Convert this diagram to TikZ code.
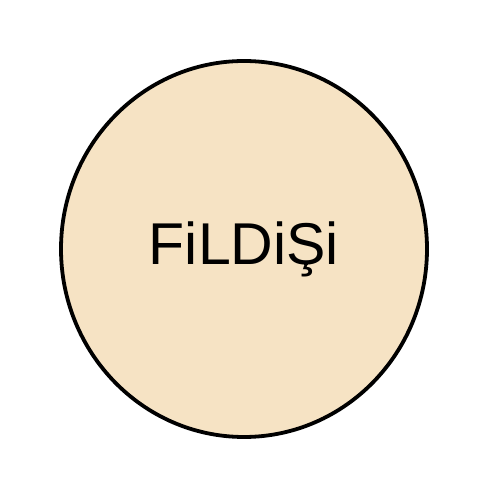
\documentclass[tikz,border=0pt]{standalone}
\usepackage{fontspec}
\setmainfont{Liberation Sans}
\usetikzlibrary{shapes.geometric}
\definecolor{ivory}{HTML}{F6E3C4}
\begin{document}
\begin{tikzpicture}[x=1pt,y=1pt,
  blob/.style={ellipse,draw=black,line width=3.8pt,fill=ivory,minimum width=366pt,minimum height=376pt,inner sep=0pt},
  lbl/.style={font=\fontsize{59}{60}\selectfont,inner sep=0pt,anchor=base}]
\useasboundingbox (0,0) rectangle (500,500);
\node[blob] (c) at (244,251) {};
\node[lbl] (t) at (244,235) {FiLDiŞi};
\end{tikzpicture}
\end{document}
